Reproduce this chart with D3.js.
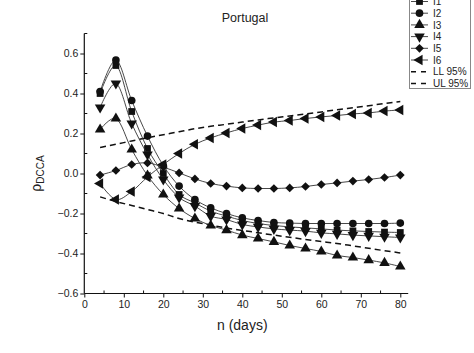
<!DOCTYPE html>
<html>
<head>
<meta charset="utf-8">
<script src="https://cdn.jsdelivr.net/npm/d3@7"></script>
<style>
  body { margin: 0; background: white; }
  text { font-family: Arial, "Liberation Sans", sans-serif; fill: #222; }
</style>
</head>
<body>
<div id="chart"></div>
<script>
// window sizes n (days)
const nDays = [4, 8, 12, 16, 20, 24, 28, 32, 36, 40, 44, 48, 52, 56, 60, 64, 68, 72, 76, 80];

const i1 = [0.40, 0.54, 0.31, 0.125, 0.0, -0.105, -0.147, -0.188, -0.213, -0.235, -0.25, -0.26, -0.267, -0.272, -0.277, -0.283, -0.287, -0.29, -0.293, -0.295];
const i2 = [0.41, 0.567, 0.365, 0.187, 0.04, -0.063, -0.13, -0.172, -0.2, -0.222, -0.235, -0.245, -0.248, -0.25, -0.25, -0.25, -0.25, -0.25, -0.25, -0.248];
const i3 = [0.22, 0.275, 0.12, -0.01, -0.105, -0.175, -0.225, -0.26, -0.283, -0.308, -0.325, -0.342, -0.36, -0.375, -0.39, -0.41, -0.42, -0.433, -0.447, -0.465];
const i4 = [0.33, 0.45, 0.25, 0.095, -0.03, -0.12, -0.163, -0.213, -0.23, -0.255, -0.267, -0.277, -0.283, -0.288, -0.297, -0.302, -0.308, -0.312, -0.316, -0.32];
const i5 = [-0.008, 0.015, 0.045, 0.053, 0.032, 0.003, -0.027, -0.05, -0.063, -0.072, -0.075, -0.075, -0.072, -0.065, -0.055, -0.047, -0.038, -0.03, -0.02, -0.008];
const i6 = [-0.05, -0.13, -0.09, -0.017, 0.045, 0.10, 0.146, 0.178, 0.203, 0.225, 0.242, 0.257, 0.265, 0.275, 0.283, 0.29, 0.298, 0.303, 0.312, 0.318];
const ll95 = [-0.117, -0.14, -0.16, -0.18, -0.2, -0.225, -0.243, -0.258, -0.273, -0.285, -0.296, -0.308, -0.319, -0.33, -0.34, -0.35, -0.362, -0.374, -0.386, -0.397];
const ul95 = [0.13, 0.146, 0.163, 0.179, 0.194, 0.209, 0.224, 0.236, 0.246, 0.257, 0.268, 0.278, 0.288, 0.298, 0.308, 0.319, 0.329, 0.339, 0.35, 0.36];

const xTicks = [0, 10, 20, 30, 40, 50, 60, 70, 80];
const yTicks = [-0.6, -0.4, -0.2, 0.0, 0.2, 0.4, 0.6];

const seriesNames = ["I1", "I2", "I3", "I4", "I5", "I6"];
const seriesValues = [i1, i2, i3, i4, i5, i6];
const boundNames = ["LL 95%", "UL 95%"];
const boundValues = [ll95, ul95];

const width = 474;
const height = 353;

const x = d3.scaleLinear().domain([0, 82]).range([84.3, 408.2]);
const y = d3.scaleLinear().domain([-0.6, 0.7]).range([293.5, 33.5]);

const svg = d3.select("#chart").append("svg")
    .attr("width", width)
    .attr("height", height);

// marker shapes, Origin style
const markerDefs = [
    { type: d3.symbolSquare, size: 46, rot: 0 },
    { type: d3.symbolCircle, size: 46, rot: 0 },
    { type: d3.symbolTriangle, size: 48, rot: 0 },
    { type: d3.symbolTriangle, size: 48, rot: 180 },
    { type: d3.symbolSquare, size: 38, rot: 45 },
    { type: d3.symbolTriangle, size: 48, rot: -90 }
];

function marker(g, def, cx, cy) {
    g.append("path")
        .attr("d", d3.symbol().type(def.type).size(def.size)())
        .attr("transform", `translate(${cx},${cy}) rotate(${def.rot})`)
        .attr("fill", "#111");
}

// axes
const xAxis = d3.axisBottom(x).tickValues(xTicks).tickSize(4).tickPadding(3).tickFormat(d3.format("d"));
const yAxis = d3.axisLeft(y).tickValues(yTicks).tickSize(4).tickPadding(2).tickFormat(d3.format(".1f"));

const gx = svg.append("g").attr("transform", `translate(0,${y(-0.6)})`).call(xAxis);
const gy = svg.append("g").attr("transform", `translate(${x(0)},0)`).call(yAxis);

[gx, gy].forEach(g => {
    g.select(".domain").attr("stroke", "#111").attr("stroke-width", 1.2);
    g.selectAll(".tick line").attr("stroke", "#111").attr("stroke-width", 1);
    g.selectAll(".tick text").style("font-size", "10.5px").attr("fill", "#222");
});
gx.select(".domain").attr("d", `M${x(0)},0H${x(82)}`);
gy.select(".domain").attr("d", `M0,${y(-0.6)}V${y(0.7)}`);

// minor ticks pointing inward
const xMinor = d3.range(5, 81, 10);
svg.append("g").selectAll("line").data(xMinor).join("line")
    .attr("x1", d => x(d)).attr("x2", d => x(d))
    .attr("y1", y(-0.6)).attr("y2", y(-0.6) - 3)
    .attr("stroke", "#111");
const yMinor = d3.range(-0.5, 0.71, 0.2);
svg.append("g").selectAll("line").data(yMinor).join("line")
    .attr("x1", x(0)).attr("x2", x(0) + 3)
    .attr("y1", d => y(d)).attr("y2", d => y(d))
    .attr("stroke", "#111");

// confidence bounds
const boundLine = d3.line().x((d, i) => x(nDays[i])).y(d => y(d)).curve(d3.curveMonotoneX);
boundValues.forEach(vals => {
    svg.append("path")
        .attr("d", boundLine(vals))
        .attr("fill", "none")
        .attr("stroke", "#111")
        .attr("stroke-width", 1.5)
        .attr("stroke-dasharray", "6,4");
});

// series
const seriesLine = d3.line().x((d, i) => x(nDays[i])).y(d => y(d)).curve(d3.curveCatmullRom.alpha(0.2));
seriesValues.forEach((vals, k) => {
    svg.append("path")
        .attr("d", seriesLine(vals))
        .attr("fill", "none")
        .attr("stroke", "#333")
        .attr("stroke-width", 0.9);
    const g = svg.append("g");
    vals.forEach((v, i) => marker(g, markerDefs[k], x(nDays[i]), y(v)));
});

// titles
svg.append("text").attr("x", 245).attr("y", 22).attr("text-anchor", "middle")
    .style("font-size", "12.5px").text("Portugal");
svg.append("text").attr("x", x(40)).attr("y", 330).attr("text-anchor", "middle")
    .style("font-size", "14px").text("n (days)");
const yl = svg.append("text")
    .attr("transform", `translate(41,${y(0)}) rotate(-90)`)
    .attr("text-anchor", "middle")
    .style("font-size", "14px");
yl.append("tspan").text("ρ");
yl.append("tspan").attr("dy", 3).style("font-size", "10px").text("DCCA");

// legend
const legend = svg.append("g");
legend.append("rect")
    .attr("x", 409.5).attr("y", -5).attr("width", 61).attr("height", 93.5)
    .attr("fill", "white").attr("stroke", "#888").attr("stroke-width", 1);
const rowH = 11.7;
seriesNames.forEach((name, k) => {
    const cy = 1.5 + k * rowH;
    legend.append("line").attr("x1", 411).attr("x2", 428).attr("y1", cy).attr("y2", cy)
        .attr("stroke", "#333").attr("stroke-width", 0.9);
    marker(legend, markerDefs[k], 419.5, cy);
    legend.append("text").attr("x", 433).attr("y", cy + 3.6)
        .style("font-size", "10px").text(name);
});
boundNames.forEach((name, k) => {
    const cy = 1.5 + (6 + k) * rowH;
    legend.append("line").attr("x1", 411).attr("x2", 429).attr("y1", cy).attr("y2", cy)
        .attr("stroke", "#111").attr("stroke-width", 1.5).attr("stroke-dasharray", "5,5");
    legend.append("text").attr("x", 433).attr("y", cy + 3.6)
        .style("font-size", "10px").text(name);
});
</script>
</body>
</html>
